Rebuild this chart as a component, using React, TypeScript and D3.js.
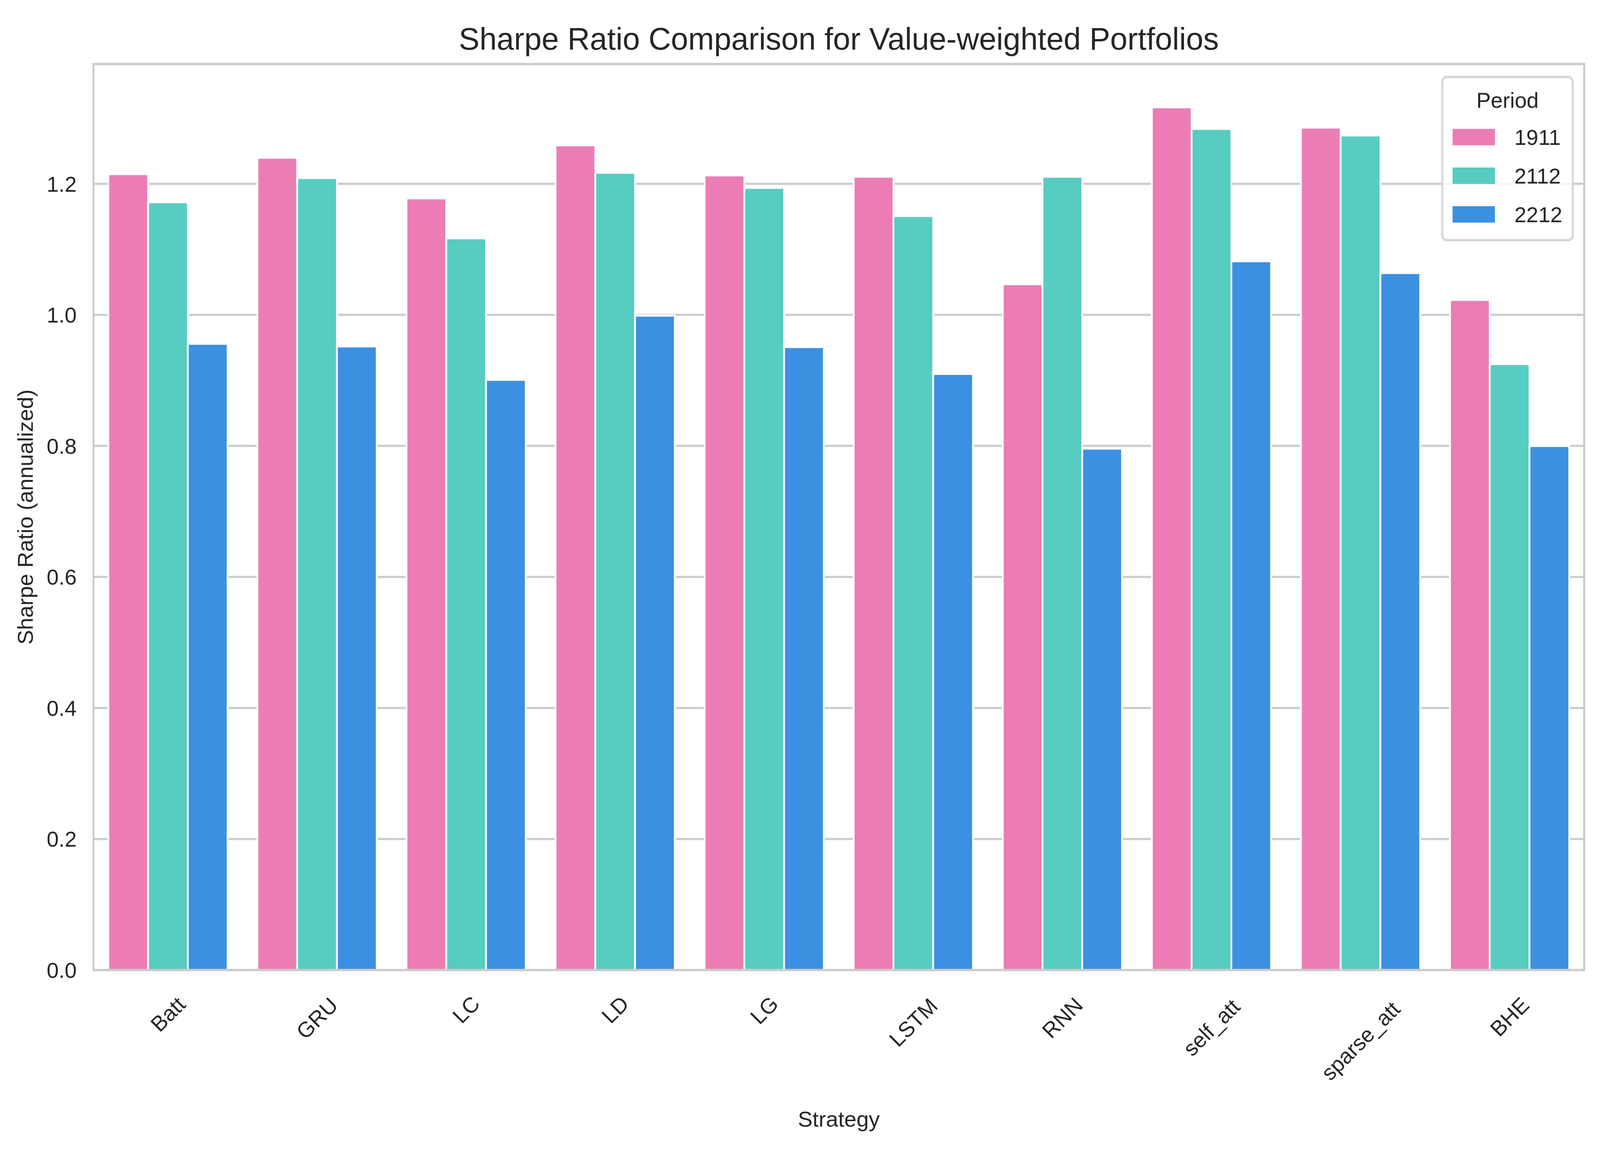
import React, {useEffect, useState} from 'react'
import * as d3 from 'd3'

// values
const strategies = ['Batt', 'GRU', 'LC', 'LD', 'LG', 'LSTM', 'RNN', 'self_att', 'sparse_att', 'BHE']
const periods = ['1911', '2112', '2212']
const sharpe1911 = [1.215, 1.24, 1.178, 1.259, 1.213, 1.211, 1.047, 1.317, 1.286, 1.023]
const sharpe2112 = [1.172, 1.209, 1.117, 1.217, 1.194, 1.151, 1.211, 1.284, 1.274, 0.925]
const sharpe2212 = [0.956, 0.952, 0.901, 0.999, 0.951, 0.91, 0.796, 1.082, 1.064, 0.8]
const yTicks = [0, 0.2, 0.4, 0.6, 0.8, 1.0, 1.2]
const colors = ['#ec7db4', '#57ccc0', '#3c90e2']

const W = 4949
const H = 2950
const margin = {left: 289, right: 4900, top: 164, bottom: 2484}
const FONT = '"Liberation Sans", Arial, Helvetica, sans-serif'
const INK = '#262626'
const GRID = '#cccccc'
const TICK_FS = 66.7
const LABEL_FS = 68
const TITLE_FS = 96

const measure = (text: string, size: number) => {
  const ctx: any = document.createElement('canvas').getContext('2d')
  ctx.font = `${size}px ${FONT}`
  return ctx.measureText(text).width
}

const viewport = () => ({w: window.innerWidth || W, h: window.innerHeight || H})

function App() {
  const [vp, setVp] = useState(viewport())

  useEffect(() => {
    document.body.style.margin = '0'
    document.body.style.overflow = 'hidden'
    const onResize = () => setVp(viewport())
    window.addEventListener('resize', onResize)
    return () => window.removeEventListener('resize', onResize)
  }, [])

  // the drawing is laid out in 4949x2950 units and stretched to the window;
  // texts are counter-scaled so they keep their proportions
  const sx = vp.w / W
  const sy = vp.h / H
  const f = Math.min(sx, sy)
  const tx = f / sx
  const ty = f / sy

  const Txt = ({x, y, size, anchor = 'start', rotate = 0, dy = 0, children}: any) => (
    <g transform={`translate(${x},${y}) scale(${tx},${ty}) rotate(${rotate})`}>
      <text y={dy} textAnchor={anchor} fontSize={size} fill={INK}>
        {children}
      </text>
    </g>
  )

  const series = [sharpe1911, sharpe2112, sharpe2212]
  const maxVal = d3.max(series.flat()) as number

  const x = d3.scaleBand().domain(strategies).range([margin.left, margin.right]).padding(0)
  const band = x.bandwidth()
  const hue = d3
    .scaleBand()
    .domain(periods)
    .range([band * 0.1, band * 0.9])
    .padding(0)
  const y = d3
    .scaleLinear()
    .domain([0, maxVal * 1.05])
    .range([margin.bottom, margin.top])

  const edge = 5.56
  const lineH = TICK_FS * 1.117

  // legend geometry
  const lg = {x: 4461, y: 197, w: 404, h: 418}

  return (
    <svg
      viewBox={`0 0 ${W} ${H}`}
      preserveAspectRatio="none"
      style={{position: 'absolute', left: 0, top: 0, width: '100vw', height: '100vh', background: '#fff'}}
      fontFamily={FONT}>
      <rect x={0} y={0} width={W} height={H} fill="#fff" />

      {/* grid */}
      {yTicks.map(t => (
        <line
          key={'g' + t}
          x1={margin.left}
          x2={margin.right}
          y1={y(t)}
          y2={y(t)}
          stroke={GRID}
          strokeWidth={5.5}
        />
      ))}

      {/* bars */}
      {periods.map((p, j) =>
        strategies.map((s, i) => {
          const x0 = (x(s) as number) + (hue(p) as number)
          const v = series[j][i]
          return (
            <rect
              key={p + s}
              x={x0}
              y={y(v)}
              width={hue.bandwidth()}
              height={y(0) - y(v)}
              fill={colors[j]}
              stroke="#fff"
              strokeWidth={edge}
            />
          )
        }),
      )}

      {/* spines */}
      <rect
        x={margin.left}
        y={margin.top}
        width={margin.right - margin.left}
        height={margin.bottom - margin.top}
        fill="none"
        stroke={GRID}
        strokeWidth={6}
      />

      {/* y ticks */}
      {yTicks.map(t => (
        <Txt key={'yt' + t} x={237} y={y(t)} dy={TICK_FS * 0.358} anchor="end" size={TICK_FS}>
          {d3.format('.1f')(t)}
        </Txt>
      ))}

      {/* x ticks, rotated 45 and centred on the category */}
      {strategies.map(s => {
        const cx = (x(s) as number) + band / 2
        const w = measure(s, TICK_FS)
        const cy = 2529 + (0.7071 * (w + lineH)) / 2
        return (
          <Txt key={'xt' + s} x={cx} y={cy} rotate={-45} dy={TICK_FS * 0.346} anchor="middle" size={TICK_FS}>
            {s}
          </Txt>
        )
      })}

      {/* axis labels */}
      <Txt x={(margin.left + margin.right) / 2} y={2885} anchor="middle" size={LABEL_FS}>
        Strategy
      </Txt>
      <Txt x={102} y={(margin.top + margin.bottom) / 2} rotate={-90} anchor="middle" size={LABEL_FS}>
        Sharpe Ratio (annualized)
      </Txt>

      {/* title */}
      <Txt x={(margin.left + margin.right) / 2} y={127} anchor="middle" size={TITLE_FS}>
        Sharpe Ratio Comparison for Value-weighted Portfolios
      </Txt>

      {/* legend */}
      <g>
        <rect
          x={lg.x}
          y={lg.y}
          width={lg.w}
          height={lg.h}
          rx={14}
          ry={14}
          fill="#fff"
          fillOpacity={0.8}
          stroke="#d6d6d6"
          strokeWidth={6}
        />
        <Txt x={lg.x + lg.w / 2} y={276} anchor="middle" size={TICK_FS}>
          Period
        </Txt>
        {periods.map((p, j) => {
          const cy = 351 + j * 99
          return (
            <g key={'lg' + p}>
              <rect x={4493} y={cy - 21} width={131} height={42} fill={colors[j]} />
              <Txt x={4684} y={cy} dy={TICK_FS * 0.358} size={TICK_FS}>
                {p}
              </Txt>
            </g>
          )
        })}
      </g>
    </svg>
  )
}

export default App
